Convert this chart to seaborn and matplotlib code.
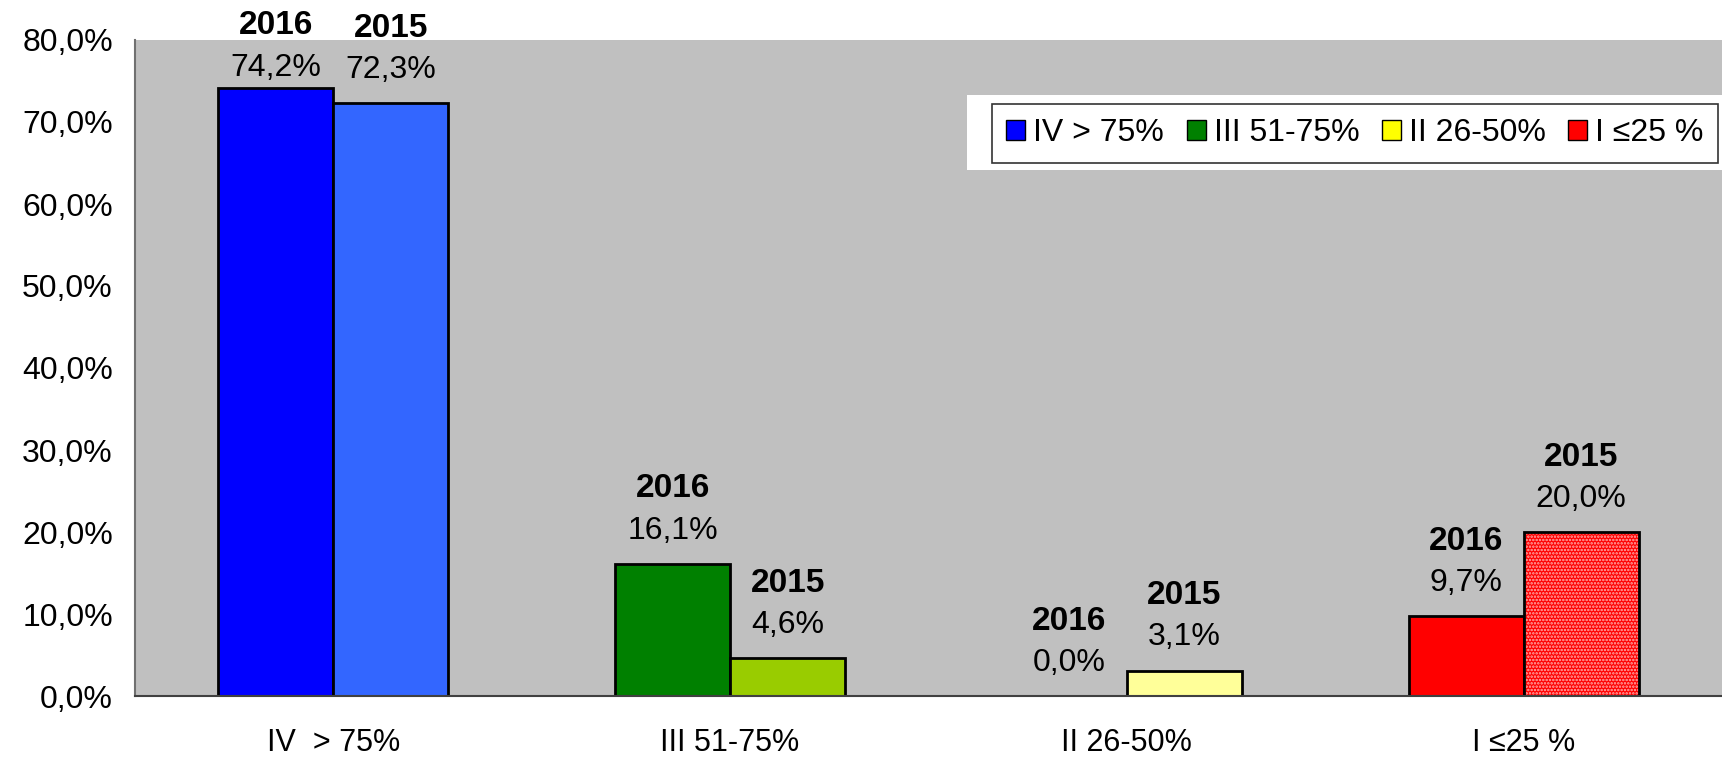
import matplotlib
matplotlib.use("Agg")
import numpy as np
import pandas as pd
import seaborn as sns
import matplotlib.pyplot as plt
from matplotlib.patches import Rectangle

# dane z wykresu
grupy = ["IV  > 75%", "III 51-75%", "II 26-50%", "I ≤25 %"]
legenda = ["IV > 75%", "III 51-75%", "II 26-50%", "I ≤25 %"]
lata = ["2016", "2015"]
w2016 = [74.2, 16.1, 0.0, 9.7]
w2015 = [72.3, 4.6, 3.1, 20.0]

kolory_2016 = ["#0000FF", "#008000", "#FFFF00", "#FF0000"]
kolory_2015 = ["#3366FF", "#99CC00", "#FFFF99", "#FF0000"]

df = pd.DataFrame({
    "grupa": grupy * 2,
    "rok": ["2016"] * 4 + ["2015"] * 4,
    "wartosc": w2016 + w2015,
})

sns.set_style("white")
plt.rcParams["font.family"] = ["Liberation Sans", "DejaVu Sans"]
plt.rcParams["text.color"] = "black"
plt.rcParams["xtick.labelcolor"] = "black"
plt.rcParams["ytick.labelcolor"] = "black"
plt.rcParams["hatch.linewidth"] = 1.2

fig = plt.figure(figsize=(17.22, 7.57), dpi=100)
ax = fig.add_axes([135 / 1722, 61 / 757, 1 - 135 / 1722, 656 / 757])
ax.set_facecolor("#C0C0C0")

sns.barplot(data=df, x="grupa", y="wartosc", hue="rok", order=grupy,
            hue_order=lata, width=0.58, edgecolor="black", linewidth=2,
            saturation=1, legend=False, ax=ax)

for kont, kolory in zip(ax.containers, [kolory_2016, kolory_2015]):
    for bar, c in zip(kont, kolory):
        bar.set_facecolor(c)

# czerwony słupek 2015 z kropkowanym wzorem
b = ax.containers[1][3]
b.set_hatch(".....")
b.set_edgecolor("#FFB0B0")
b.set_linewidth(0)
ax.add_patch(Rectangle(b.get_xy(), b.get_width(), b.get_height(), fill=False,
                       edgecolor="black", linewidth=2, zorder=b.get_zorder() + 0.1))

# etykiety
for kont, rok in zip(ax.containers, lata):
    for bar in kont:
        v = bar.get_height()
        x = bar.get_x() + bar.get_width() / 2
        o1, o2 = (14, 45) if v > 73 else (24, 54)
        ax.annotate(f"{v:.1f}%".replace(".", ","), (x, v), xytext=(0, o1),
                    textcoords="offset points", ha="center", va="center",
                    fontsize=23, annotation_clip=False)
        ax.annotate(rok, (x, v), xytext=(0, o2), textcoords="offset points",
                    ha="center", va="center", fontsize=24, fontweight="bold",
                    annotation_clip=False)

ax.set_ylim(0, 80)
ax.set_xlim(-0.5, 3.48)
ax.set_yticks(np.arange(0, 81, 10))
ax.set_yticklabels([f"{t:.1f}%".replace(".", ",") for t in np.arange(0, 81, 10)])
ax.set_xticks(range(4))
ax.set_xticklabels(grupy)
ax.set_xticks([-0.5, 0.5, 1.5, 2.5, 3.5], minor=True)
ax.tick_params(axis="x", which="major", length=0, pad=23, labelsize=22)
ax.tick_params(axis="x", which="minor", length=9, width=1.2, color="#606060",
               direction="out")
ax.tick_params(axis="y", length=10, width=1.2, color="#606060", direction="out",
               labelsize=23, pad=6)
ax.set_xlabel("")
ax.set_ylabel("")
for s in ["top", "right"]:
    ax.spines[s].set_visible(False)
ax.spines["left"].set_color("#707070")
ax.spines["bottom"].set_color("#404040")
ax.spines["left"].set_linewidth(1.5)
ax.spines["bottom"].set_linewidth(1.5)

# legenda na białym tle
fig.patches.append(Rectangle((967 / 1722, 1 - 170 / 757), 755 / 1722, 75 / 757,
                             transform=fig.transFigure, facecolor="white",
                             edgecolor="none", zorder=3))
uchwyty = [Rectangle((0, 0), 1, 1, facecolor=c, edgecolor="black", linewidth=1)
           for c in kolory_2016]
leg = fig.legend(uchwyty, legenda, ncol=4, loc="upper right",
                 bbox_to_anchor=(1718 / 1722, 1 - 104 / 757), fontsize=23,
                 frameon=True, fancybox=False, handlelength=0.6,
                 handleheight=0.6, handletextpad=0.25, columnspacing=0.7,
                 borderpad=0.45, borderaxespad=0)
leg.get_frame().set_edgecolor("black")
leg.get_frame().set_linewidth(1.2)
leg.set_zorder(4)

fig.savefig("out.png", dpi=100)
